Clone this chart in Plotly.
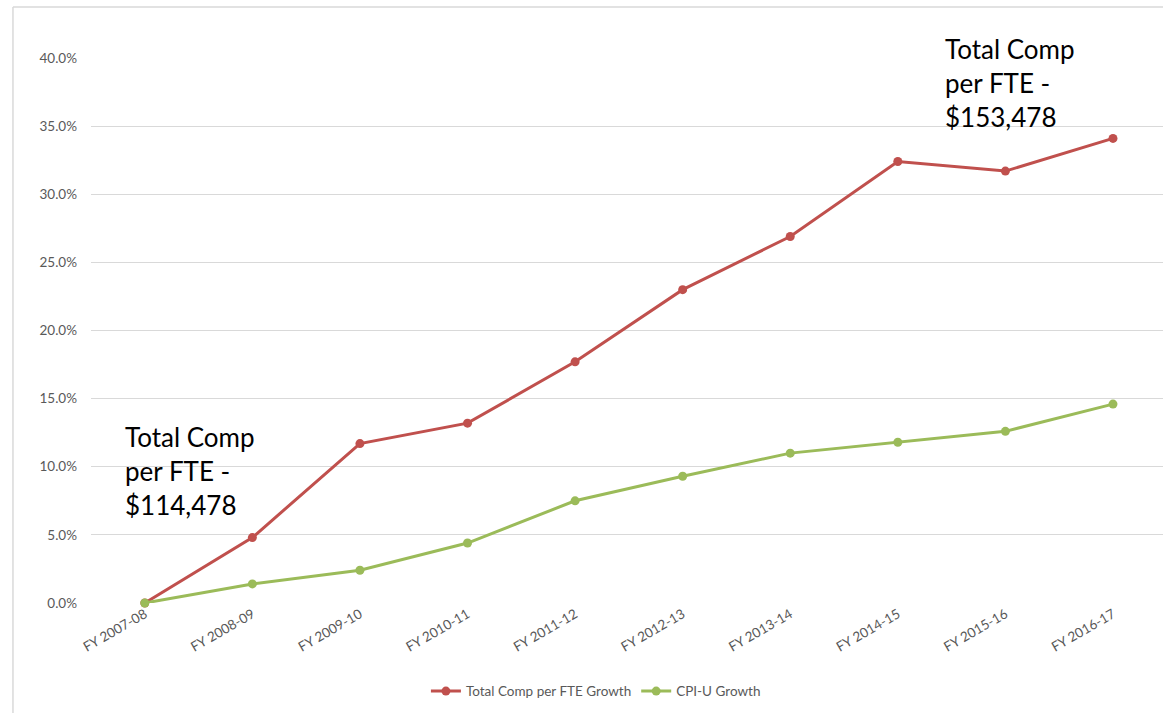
import plotly.graph_objects as go

categories = ["FY 2007-08", "FY 2008-09", "FY 2009-10", "FY 2010-11", "FY 2011-12",
              "FY 2012-13", "FY 2013-14", "FY 2014-15", "FY 2015-16", "FY 2016-17"]
total_comp_growth = [0.0, 4.8, 11.7, 13.2, 17.7, 23.0, 26.9, 32.4, 31.7, 34.1]
cpi_u_growth = [0.0, 1.4, 2.4, 4.4, 7.5, 9.3, 11.0, 11.8, 12.6, 14.6]
y_ticks = [0, 5, 10, 15, 20, 25, 30, 35, 40]
y_tick_labels = ["0.0%", "5.0%", "10.0%", "15.0%", "20.0%", "25.0%", "30.0%", "35.0%", "40.0%"]

RED = "#C0504D"
GREEN = "#9BBB59"
FONT = "Lato, Open Sans, sans-serif"
x_idx = list(range(len(categories)))

fig = go.Figure()
fig.add_trace(go.Scatter(x=x_idx, y=total_comp_growth, mode="lines+markers",
                         name="Total Comp per FTE Growth",
                         line=dict(color=RED, width=3), marker=dict(color=RED, size=9),
                         cliponaxis=False))
fig.add_trace(go.Scatter(x=x_idx, y=cpi_u_growth, mode="lines+markers",
                         name="CPI-U Growth",
                         line=dict(color=GREEN, width=3), marker=dict(color=GREEN, size=9),
                         cliponaxis=False))

fig.update_layout(
    width=1163, height=713,
    margin=dict(l=91, r=0, t=58, b=110, autoexpand=False),
    paper_bgcolor="white", plot_bgcolor="white",
    font=dict(family=FONT, color="#595959", size=13.5),
    showlegend=True,
    legend=dict(orientation="h", x=0.471, xanchor="center", y=-0.162, yanchor="middle",
                font=dict(size=13.5, color="#595959")),
    xaxis=dict(tickmode="array", tickvals=x_idx, ticktext=categories, tickangle=-30,
               range=[-0.5, 9.465], showgrid=False, zeroline=False, showline=False,
               ticks="", tickfont=dict(size=13.5, color="#595959"), automargin=False),
    yaxis=dict(tickmode="array", tickvals=y_ticks, ticktext=y_tick_labels, range=[0, 40],
               showgrid=True, gridcolor="#D9D9D9", gridwidth=1, zeroline=False,
               showline=False, ticks="", ticklabelstandoff=13,
               tickfont=dict(size=13.5, color="#595959"), automargin=False),
    annotations=[
        dict(x=0.030, y=0.337, xref="paper", yref="paper", xanchor="left", yanchor="top",
             text="Total Comp<br>per FTE -<br>$114,478", showarrow=False, align="left",
             font=dict(family=FONT, size=26, color="black")),
        dict(x=0.795, y=1.05, xref="paper", yref="paper", xanchor="left", yanchor="top",
             text="Total Comp<br>per FTE -<br>$153,478", showarrow=False, align="left",
             font=dict(family=FONT, size=26, color="black")),
    ],
    shapes=[
        dict(type="line", xref="paper", yref="paper", x0=-0.0728, x1=-0.0728, y0=1.0936, y1=-0.21,
             line=dict(color="#D9D9D9", width=1.5)),
        dict(type="line", xref="paper", yref="paper", x0=-0.0728, x1=1.01, y0=1.0936, y1=1.0936,
             line=dict(color="#D9D9D9", width=1.5)),
    ],
)

fig.write_html("out.html")
